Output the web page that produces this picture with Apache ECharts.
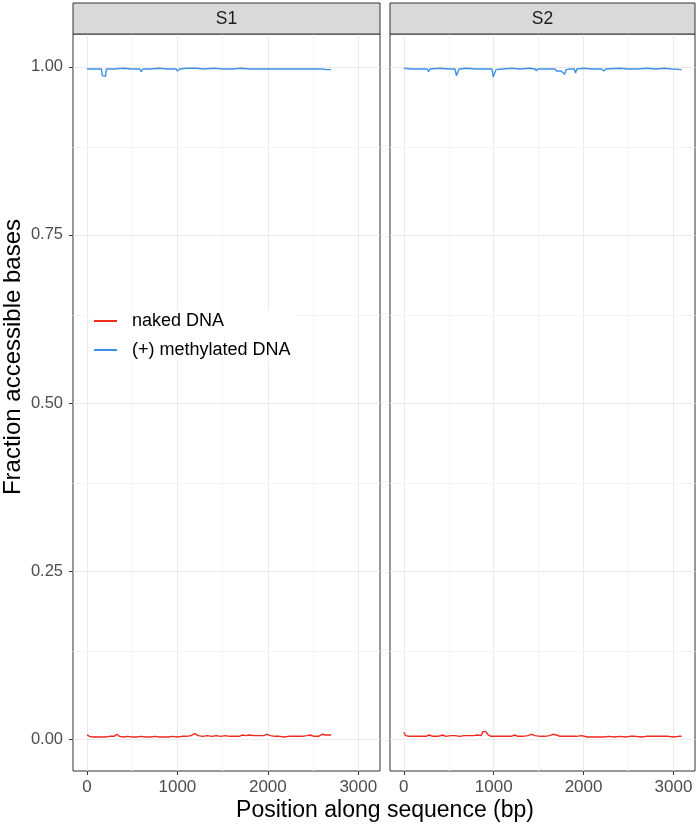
<!DOCTYPE html>
<html><head><meta charset="utf-8">
<script src="https://cdn.jsdelivr.net/npm/echarts@6/dist/echarts.min.js"></script>
<style>html,body{margin:0;padding:0;background:#fff}#c{width:697px;height:825px}</style>
</head><body><div id="c"></div>
<script>
const panels = ['S1', 'S2'];
const seriesNames = ['naked DNA', '(+) methylated DNA'];
const yTicks = [0, 0.25, 0.5, 0.75, 1.0];
const yMinor = [0.125, 0.375, 0.625, 0.875];
const xTicks = [0, 1000, 2000, 3000];
const xMinor = [500, 1500, 2500];

const s1Naked = [[0,0.006],[30,0.004],[60,0.003],[100,0.003],[150,0.003],[200,0.003],[250,0.004],[300,0.004],[330,0.007],[360,0.004],[400,0.003],[450,0.004],[500,0.003],[550,0.003],[600,0.004],[650,0.003],[700,0.003],[750,0.004],[800,0.003],[850,0.003],[900,0.003],[950,0.004],[1000,0.003],[1050,0.004],[1100,0.004],[1150,0.005],[1190,0.008],[1230,0.005],[1280,0.004],[1330,0.005],[1380,0.004],[1430,0.005],[1480,0.004],[1530,0.005],[1580,0.004],[1630,0.004],[1680,0.004],[1720,0.006],[1760,0.005],[1800,0.006],[1850,0.005],[1900,0.005],[1950,0.005],[1990,0.007],[2030,0.005],[2080,0.004],[2130,0.004],[2180,0.003],[2230,0.004],[2280,0.004],[2330,0.004],[2380,0.004],[2430,0.005],[2470,0.006],[2510,0.004],[2560,0.004],[2600,0.007],[2640,0.006],[2680,0.006],[2700,0.006]];
const s1Meth = [[0,0.997],[60,0.997],[120,0.997],[160,0.997],[170,0.987],[205,0.986],[215,0.997],[300,0.997],[400,0.998],[500,0.997],[585,0.997],[600,0.993],[620,0.997],[700,0.997],[800,0.998],[900,0.997],[985,0.997],[1000,0.994],[1025,0.997],[1100,0.998],[1200,0.998],[1300,0.997],[1400,0.998],[1500,0.997],[1600,0.997],[1700,0.998],[1800,0.997],[1900,0.997],[2000,0.997],[2100,0.997],[2200,0.997],[2300,0.997],[2400,0.997],[2500,0.997],[2520,0.995],[2540,0.997],[2600,0.997],[2650,0.996],[2700,0.996]];
const s2Naked = [[0,0.010],[20,0.005],[60,0.004],[100,0.004],[150,0.004],[200,0.004],[250,0.004],[280,0.006],[320,0.004],[380,0.004],[430,0.006],[470,0.004],[520,0.005],[570,0.005],[620,0.004],[670,0.005],[720,0.005],[770,0.005],[820,0.006],[860,0.005],[880,0.011],[910,0.011],[940,0.006],[970,0.004],[1020,0.004],[1080,0.004],[1140,0.004],[1200,0.004],[1230,0.006],[1270,0.004],[1320,0.004],[1380,0.005],[1420,0.007],[1460,0.005],[1520,0.004],[1570,0.004],[1620,0.005],[1660,0.007],[1700,0.006],[1740,0.004],[1800,0.004],[1860,0.004],[1920,0.004],[1980,0.005],[2000,0.006],[2040,0.003],[2100,0.003],[2160,0.003],[2220,0.003],[2280,0.004],[2340,0.003],[2400,0.004],[2460,0.003],[2520,0.004],[2580,0.004],[2640,0.003],[2700,0.004],[2760,0.004],[2820,0.004],[2880,0.004],[2940,0.004],[3000,0.003],[3060,0.004],[3090,0.004]];
const s2Meth = [[0,0.998],[100,0.997],[200,0.997],[260,0.997],[275,0.993],[290,0.997],[400,0.998],[500,0.997],[570,0.997],[585,0.987],[600,0.987],[615,0.997],[700,0.998],[800,0.997],[900,0.997],[980,0.997],[995,0.985],[1010,0.987],[1025,0.996],[1100,0.997],[1200,0.998],[1300,0.997],[1400,0.998],[1460,0.997],[1475,0.994],[1490,0.997],[1600,0.997],[1680,0.997],[1700,0.994],[1720,0.996],[1750,0.994],[1770,0.995],[1790,0.989],[1805,0.996],[1850,0.997],[1895,0.997],[1910,0.991],[1925,0.997],[2000,0.998],[2100,0.997],[2200,0.997],[2225,0.994],[2245,0.997],[2400,0.998],[2500,0.997],[2600,0.997],[2700,0.998],[2800,0.997],[2900,0.998],[2980,0.997],[3000,0.998],[3090,0.996]];

const RED = '#EE2B1E', BLUE = '#3F90E6';
const FONT = '"Liberation Sans", Arial, Helvetica, sans-serif';
const X_MIN = -154, X_MAX = 3240, Y_MIN = -0.0476, Y_MAX = 1.049;

const grids = [
  {left: 73, width: 307, top: 34, height: 737},
  {left: 390, width: 305, top: 34, height: 737}
];

const xAxis = [], yAxis = [];
grids.forEach((g, i) => {
  xAxis.push({type: 'value', gridIndex: i, min: X_MIN, max: X_MAX, position: 'bottom',
    axisLine: {show: false, onZero: false},
    axisTick: {show: true, length: 4, lineStyle: {color: '#333', width: 1}, customValues: xTicks},
    minorTick: {show: false}, minorSplitLine: {show: false},
    axisLabel: {show: true, customValues: xTicks, color: '#4D4D4D', fontSize: 17, fontFamily: FONT, margin: 8,
      formatter: v => String(v)},
    splitLine: {show: true, lineStyle: {color: '#EBEBEB', width: 1}}
  });
  yAxis.push({type: 'value', gridIndex: i, min: Y_MIN, max: Y_MAX, position: 'left',
    axisLine: {show: false, onZero: false},
    axisTick: {show: i === 0, length: 4, lineStyle: {color: '#333', width: 1}, customValues: yTicks},
    minorTick: {show: false}, minorSplitLine: {show: false},
    axisLabel: {show: i === 0, customValues: yTicks, color: '#4D4D4D', fontSize: 16.5, fontFamily: FONT, margin: 10,
      formatter: v => v.toFixed(2)},
    splitLine: {show: true, lineStyle: {color: '#EBEBEB', width: 1}}
  });
});

const data = [[s1Naked, s1Meth], [s2Naked, s2Meth]];
const series = [];
grids.forEach((g, i) => {
  series.push({type: 'line', name: 'minor' + i, xAxisIndex: i, yAxisIndex: i, data: [], z: 1, silent: true,
    markLine: {silent: true, symbol: 'none', animation: false, label: {show: false},
      lineStyle: {color: '#F4F4F4', width: 1, type: 'solid'},
      emphasis: {disabled: true},
      data: yMinor.map(v => ({yAxis: v})).concat(xMinor.map(v => ({xAxis: v})))}
  });
});
data.forEach((pair, i) => {
  pair.forEach((d, k) => {
    series.push({type: 'line', name: seriesNames[k], xAxisIndex: i, yAxisIndex: i,
      data: d, showSymbol: false, symbol: 'none', silent: true, animation: false, z: 5,
      lineStyle: {color: k === 0 ? RED : BLUE, width: 1.4}, itemStyle: {color: k === 0 ? RED : BLUE}});
  });
});

const graphic = [];
grids.forEach((g, i) => {
  graphic.push({type: 'rect', shape: {x: g.left, y: 3, width: g.width, height: 31},
    style: {fill: '#D9D9D9', stroke: '#333', lineWidth: 1}, z: 10});
  graphic.push({type: 'text', x: g.left + g.width / 2, y: 19,
    style: {text: panels[i], fill: '#1A1A1A', font: '17.5px ' + FONT, textAlign: 'center', textVerticalAlign: 'middle'}, z: 11});
});
graphic.push({type: 'text', x: 385, y: 811,
  style: {text: 'Position along sequence (bp)', fill: '#000', font: '23px ' + FONT, textAlign: 'center', textVerticalAlign: 'middle'}});
graphic.push({type: 'text', x: 13, y: 357, rotation: Math.PI / 2,
  style: {text: 'Fraction accessible bases', fill: '#000', font: '24px ' + FONT, textAlign: 'center', textVerticalAlign: 'middle'}});

const chart = echarts.init(document.getElementById('c'), null, {renderer: 'canvas'});
chart.setOption({
  animation: false,
  backgroundColor: '#fff',
  grid: grids.map(g => Object.assign({show: true, borderColor: '#333', borderWidth: 1, backgroundColor: 'transparent', containLabel: false}, g)),
  xAxis, yAxis, series, graphic,
  legend: {show: true, orient: 'vertical', left: 92, top: 310, z: 20, backgroundColor: '#fff', padding: [2, 6, 2, 2],
    itemWidth: 23, itemHeight: 2, itemGap: 11, icon: 'rect',
    data: seriesNames, textStyle: {fontSize: 18, fontFamily: FONT, color: '#000', padding: [0, 0, 0, 10]}, selectedMode: false}
});
</script></body></html>
